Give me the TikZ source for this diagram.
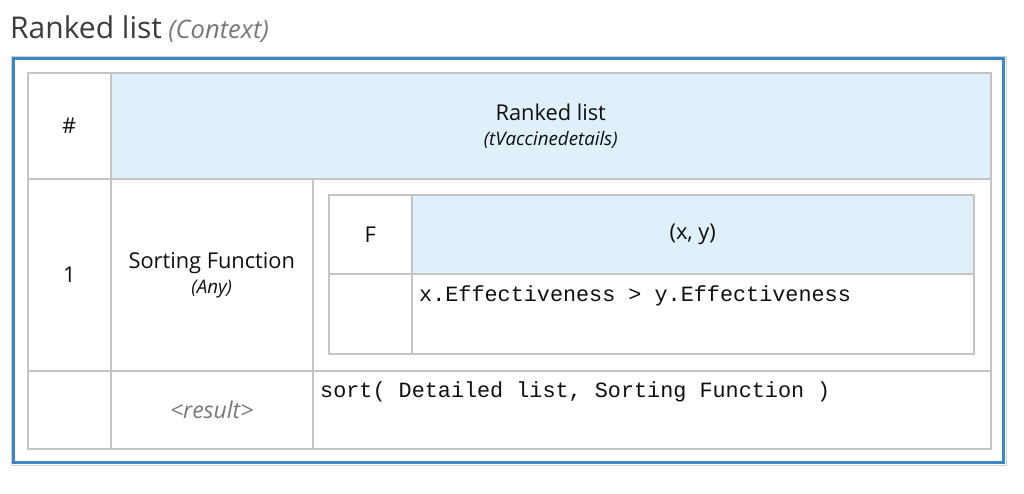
\documentclass[tikz,border=0pt]{standalone}
\usepackage{fontspec}
\setmainfont{Open Sans}
\setmonofont{Liberation Mono}
\usetikzlibrary{positioning, calc}
\definecolor{frameBlue}{RGB}{62,134,196}
\definecolor{frameShade}{RGB}{200,208,216}
\definecolor{headFill}{RGB}{223,240,251}
\definecolor{gridGray}{RGB}{196,196,196}
\definecolor{textDark}{RGB}{15,15,15}
\definecolor{titleDark}{RGB}{60,60,60}
\definecolor{noteGray}{RGB}{120,120,120}
\newcommand{\typenote}{\itshape\fontsize{18.7}{22}\selectfont}

\begin{document}
\begin{tikzpicture}[
        x=1pt, y=-1pt,
        cell/.style={rectangle, draw=gridGray, line width=1.5pt, anchor=north west, inner sep=0pt, align=center, text=textDark, font=\fontsize{21.8}{26}\selectfont},
        headcell/.style={cell, fill=headFill},
        codetext/.style={anchor=base west, inner sep=0pt, text=textDark, font=\ttfamily\fontsize{21.8}{26}\selectfont}
    ]
        \useasboundingbox (0,0) rectangle (1024,493);

        % Title
        \node[anchor=base west, inner sep=0pt, text=titleDark, font=\fontsize{30}{34}\selectfont] (title) at (10,38) {Ranked list};
        \node[inner sep=0pt, text=noteGray, font=\itshape\fontsize{25.5}{30}\selectfont, right=6pt of title.base east, anchor=base west] (ctx) {(Context)};

        % Frame
        \draw[frameShade, line width=1pt] (11,56) rectangle (1006,465);
        \draw[frameBlue, line width=3pt] (13.5,58.5) rectangle (1003.5,462.5);

        % Outer table
        \node[cell, minimum width=83pt, minimum height=106pt] (hash) at (27,72) {\#};
        \node[headcell, minimum width=880pt, minimum height=106pt] (rlhead) at (110,72) {Ranked list\\[-1pt]{\typenote (tVaccinedetails)}};
        \node[cell, minimum width=83pt, minimum height=192pt] (num) at (27,178) {1};
        \node[cell, minimum width=202pt, minimum height=192pt] (sortfn) at (110,178) {Sorting Function\\[-1pt]{\typenote (Any)}};
        \node[cell, minimum width=678pt, minimum height=192pt] (body) at (312,178) {};
        \node[cell, minimum width=83pt, minimum height=78pt] (resnum) at (27,370) {};
        \node[cell, minimum width=202pt, minimum height=78pt, text=noteGray, font=\itshape\fontsize{23}{26}\selectfont] (result) at (110,370) {<result>};
        \node[cell, minimum width=678pt, minimum height=78pt] (resexpr) at (312,370) {};

        % Inner table
        \node[cell, minimum width=83pt, minimum height=79pt] (fcell) at (328,194) {F};
        \node[headcell, minimum width=562pt, minimum height=79pt] (xyhead) at (411,194) {(x, y)};
        \node[cell, minimum width=83pt, minimum height=80pt] (fnum) at (328,273) {};
        \node[cell, minimum width=562pt, minimum height=80pt] (fexpr) at (411,273) {};

        % Code
        \node[codetext] (cmp) at ($(fexpr.north west)+(8,28)$) {x.Effectiveness > y.Effectiveness};
        \node[codetext] (sortcall) at ($(resexpr.north west)+(8,27)$) {sort( Detailed list, Sorting Function )};
    \end{tikzpicture}
\end{document}
